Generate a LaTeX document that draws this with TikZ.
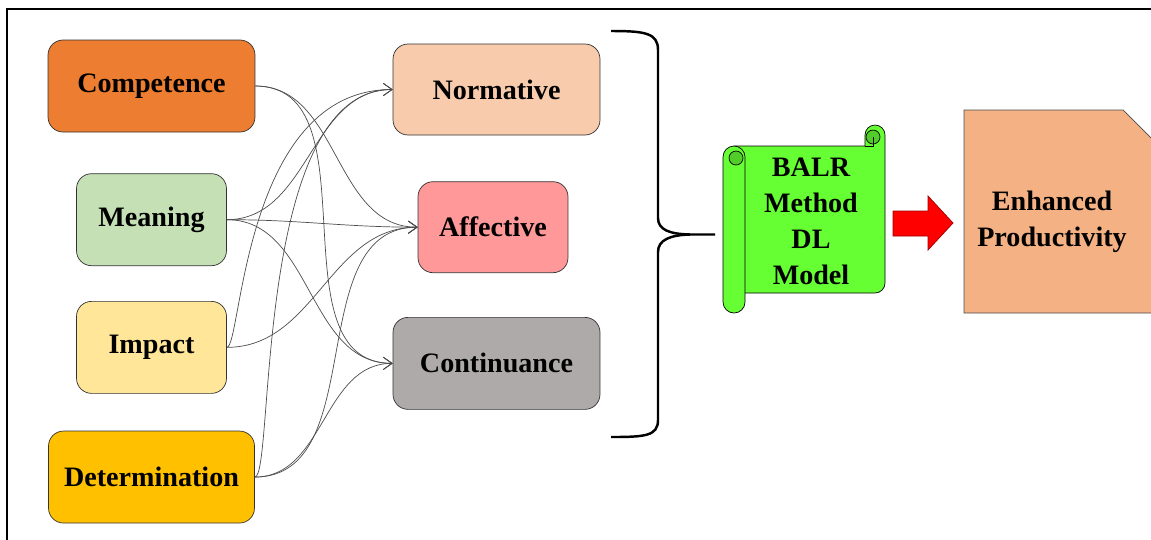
\documentclass[tikz,border=0pt]{standalone}
\usepackage{fontspec}
\setmainfont{Liberation Serif}
\usetikzlibrary{arrows.meta,positioning}

\definecolor{compcol}{HTML}{ED7D31}
\definecolor{meancol}{HTML}{C5E0B4}
\definecolor{impcol}{HTML}{FFE699}
\definecolor{detcol}{HTML}{FFC000}
\definecolor{normcol}{HTML}{F8CBAD}
\definecolor{affcol}{HTML}{FF9999}
\definecolor{contcol}{HTML}{AEAAAA}
\definecolor{scrollcol}{HTML}{66FF33}
\definecolor{prodcol}{HTML}{F4B183}

\begin{document}
\begin{tikzpicture}[x=0.02cm,y=-0.02cm,>={Straight Barb[length=5pt,width=7pt]}]
  \tikzset{box/.style={rounded corners=0.3cm,draw=black!80,thin,minimum height=1.84cm,
      font=\fontsize{16}{20}\selectfont\bfseries}}
  \tikzset{link/.style={->,thin,black!70}}
  \tikzset{bigtext/.style={align=center,font=\fontsize{16}{20.5}\selectfont\bfseries}}

  \useasboundingbox (0,0) rectangle (1151,539);
  \draw[line width=0.9pt] (7,9) rectangle (1170,560);

  % left column
  \node[box,fill=compcol,minimum width=4.14cm] (com) at (151.5,86) {Competence};
  \node[box,fill=meancol,minimum width=3cm,below=0.82cm of com] (mea) {Meaning};
  \node[box,fill=impcol,minimum width=3cm,below=0.7cm of mea] (imp) {Impact};
  \node[box,fill=detcol,minimum width=4.12cm,below=0.74cm of imp] (det) {Determination};

  % right column
  \node[box,fill=normcol,minimum width=4.14cm,minimum height=1.82cm] (nor) at (496.5,89.5) {Normative};
  \node[box,fill=affcol,minimum width=3cm,minimum height=1.82cm,below=0.92cm of nor,xshift=-0.07cm] (aff) {Affective};
  \node[box,fill=contcol,minimum width=4.14cm,below=0.88cm of aff,xshift=0.07cm] (con) {Continuance};

  % links
  \draw[link] (com.east) to[out=0,in=180] (aff.west);
  \draw[link] (com.east) to[out=0,in=180] (con.west);
  \draw[link] (mea.east) to[out=0,in=180] (nor.west);
  \draw[link] (mea.east) to[out=0,in=180] (aff.west);
  \draw[link] (mea.east) to[out=0,in=180] (con.west);
  \draw[link] (imp.east) to[out=0,in=180,out distance=0.3cm,in distance=3cm] (nor.west);
  \draw[link] (imp.east) to[out=0,in=180] (aff.west);
  \draw[link] (det.east) to[out=0,in=180,out distance=0.4cm,in distance=2.8cm] (nor.west);
  \draw[link] (det.east) to[out=0,in=180] (aff.west);
  \draw[link] (det.east) to[out=0,in=180] (con.west);

  % brace
  \draw[line width=1.4pt] (611,31) .. controls (645,31) and (658,33) .. (658,50)
    -- (658,218) .. controls (658,230) and (670,234) .. (690,234.5) -- (715,234.5);
  \draw[line width=1.4pt] (690,234.5) .. controls (670,235) and (658,240) .. (658,252)
    -- (658,420) .. controls (658,436) and (645,437) .. (611,437);

  % scroll
  \draw[fill=scrollcol,thin] (734,146) -- (865,146) -- (865,135)
    arc[start angle=180,end angle=360,radius=10] -- (885,283)
    arc[start angle=0,end angle=90,radius=10] -- (734,293) -- cycle;
  \draw[fill=scrollcol!80!black,thin] (873,137) circle[radius=7];
  \draw[thin] (865,146) -- (873,146) -- (873,137);
  \draw[fill=scrollcol,thin] (723,157) arc[start angle=180,end angle=360,radius=11]
    -- (745,302) arc[start angle=0,end angle=180,radius=11] -- cycle;
  \draw[fill=scrollcol!80!black,thin] (736,158) circle[radius=7];
  \node[bigtext] (balr) at (811,221) {BALR\\Method\\DL\\Model};

  % red arrow
  \draw[fill=red,draw=red!60!black,thin] (893,211) -- (928,211) -- (928,196) -- (953,223)
    -- (928,250) -- (928,236) -- (893,236) -- cycle;

  % outcome
  \draw[fill=prodcol,draw=black!70,thin] (964,110) -- (1123,110) -- (1170,157)
    -- (1170,313) -- (964,313) -- cycle;
  \node[bigtext] (prod) at (1052,222) {Enhanced\\Productivity};
\end{tikzpicture}
\end{document}
